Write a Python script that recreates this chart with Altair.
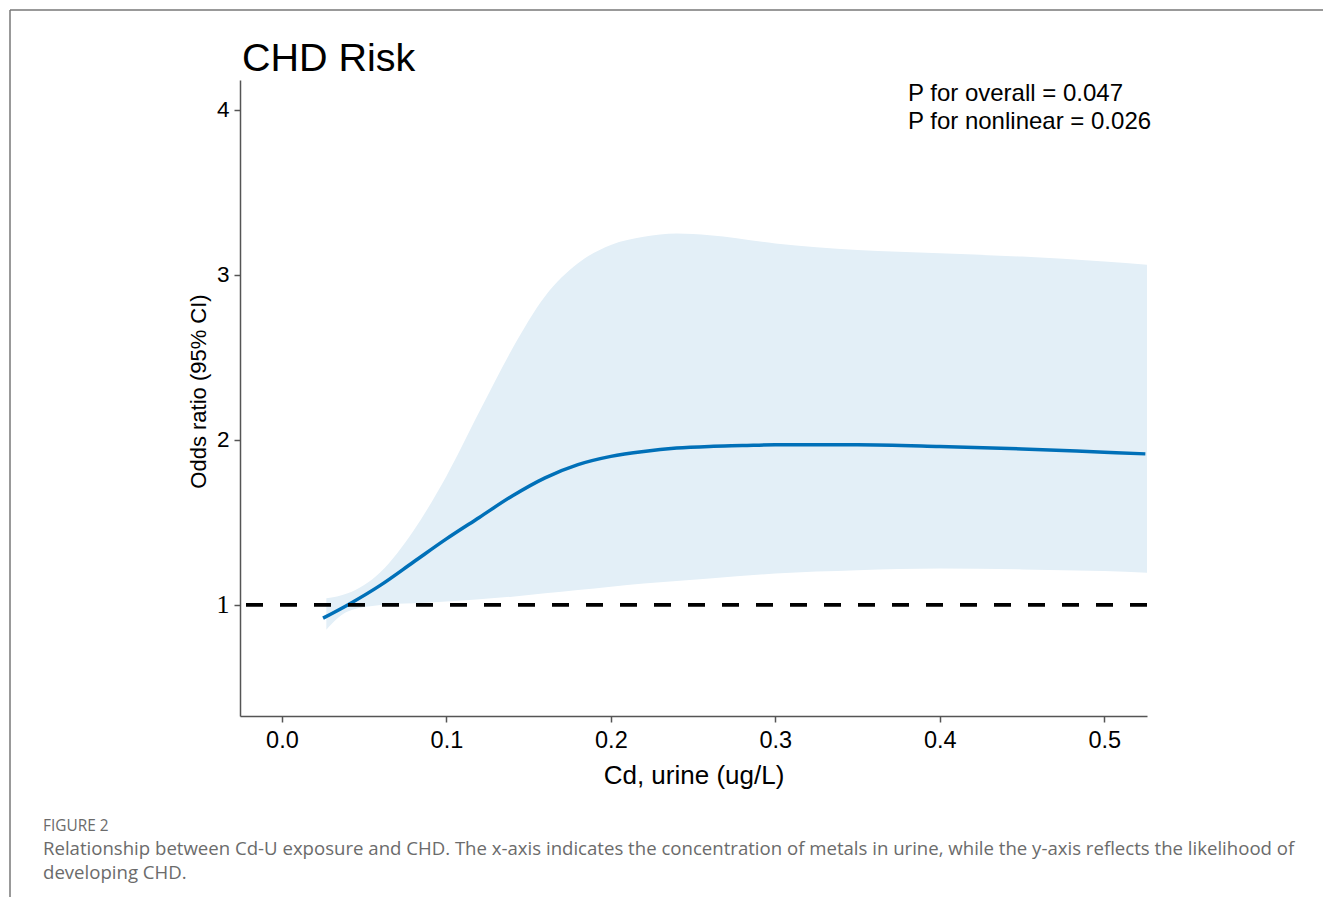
import altair as alt
import pandas as pd

# fitted curve
cd_line = [0.025, 0.04, 0.06, 0.08, 0.10, 0.12, 0.14, 0.16, 0.18, 0.20, 0.22, 0.24,
           0.26, 0.28, 0.30, 0.35, 0.40, 0.45, 0.50, 0.525]
or_line = [0.92, 1.00, 1.12, 1.26, 1.40, 1.53, 1.66, 1.77, 1.85, 1.90, 1.93, 1.95,
           1.96, 1.965, 1.97, 1.97, 1.96, 1.945, 1.925, 1.915]

# 95% confidence band
cd_ci = [0.027, 0.04, 0.06, 0.08, 0.10, 0.12, 0.14, 0.16, 0.18, 0.20, 0.22, 0.24,
         0.26, 0.30, 0.35, 0.40, 0.45, 0.50, 0.526]
ci_upper = [1.04, 1.07, 1.20, 1.45, 1.78, 2.17, 2.55, 2.87, 3.07, 3.18, 3.23, 3.25,
            3.24, 3.19, 3.15, 3.13, 3.11, 3.08, 3.06]
ci_lower = [0.85, 0.96, 1.00, 1.01, 1.02, 1.035, 1.05, 1.07, 1.09, 1.11, 1.13, 1.145,
            1.16, 1.19, 1.21, 1.22, 1.215, 1.205, 1.195]

x_ticks = [0.0, 0.1, 0.2, 0.3, 0.4, 0.5]
y_ticks = [1, 2, 3, 4]
ref_value = [1]

title_text = "CHD Risk"
p_texts = ["P for overall = 0.047", "P for nonlinear = 0.026"]
caption_label = "FIGURE 2"
caption_lines = [
    "Relationship between Cd-U exposure and CHD. The x-axis indicates the concentration of metals in urine, while the y-axis reflects the likelihood of",
    "developing CHD.",
]

line_df = pd.DataFrame({"cd": cd_line, "or": or_line})
ci_df = pd.DataFrame({"cd": cd_ci, "lo": ci_lower, "hi": ci_upper})
ref_df = pd.DataFrame({"ref": ref_value})

FONT = "Liberation Sans"
CAP_FONT = "Open Sans"
W, H = 907, 636

xscale = alt.Scale(domain=[-0.0255, 0.526], nice=False, zero=False)
yscale = alt.Scale(domain=[0.327, 4.18], nice=False, zero=False)

xaxis = alt.Axis(values=x_ticks, format=".1f", title="Cd, urine (ug/L)", grid=False,
                 labelFontSize=23.5, labelFont=FONT, labelColor="black", labelPadding=6,
                 titleFontSize=26, titleFont=FONT, titleFontWeight="normal", titleColor="black",
                 titlePadding=11, domainColor="#555555", domainWidth=1.5, tickColor="#555555",
                 tickWidth=1.5, tickSize=6)
yaxis = alt.Axis(values=y_ticks, format="d", title="Odds ratio (95% CI)", grid=False,
                 labelFontSize=alt.expr("datum.value == 1 ? 26 : 22.5"),
                 labelFont=alt.expr("datum.value == 1 ? 'Liberation Serif' : 'Liberation Sans'"),
                 labelColor="black", labelPadding=5,
                 titleFontSize=22, titleFont=FONT, titleFontWeight="normal", titleColor="black",
                 titlePadding=6, titleY=311, domainColor="#555555", domainWidth=1.5,
                 tickColor="#555555", tickWidth=1.5, tickSize=6)

band = alt.Chart(ci_df).mark_area(color="#e3eff7", interpolate="monotone").encode(
    x=alt.X("cd:Q", scale=xscale, axis=xaxis),
    y=alt.Y("lo:Q", scale=yscale, axis=yaxis),
    y2="hi:Q",
)

curve = alt.Chart(line_df).mark_line(color="#0070b8", strokeWidth=3.5, interpolate="monotone").encode(
    x=alt.X("cd:Q", scale=xscale),
    y=alt.Y("or:Q", scale=yscale),
)

ref = alt.Chart(ref_df).mark_rule(color="black", strokeWidth=3.7, strokeDash=[17, 17]).encode(
    y=alt.Y("ref:Q", scale=yscale),
)

title = alt.Chart(pd.DataFrame({"t": [title_text]})).mark_text(
    font=FONT, fontSize=39.5, align="left", baseline="alphabetic", color="black"
).encode(text="t:N", x=alt.value(2), y=alt.value(-9))

p1 = alt.Chart(pd.DataFrame({"t": [p_texts[0]]})).mark_text(
    font=FONT, fontSize=24, align="left", baseline="alphabetic", color="black"
).encode(text="t:N", x=alt.value(668), y=alt.value(21))
p2 = alt.Chart(pd.DataFrame({"t": [p_texts[1]]})).mark_text(
    font=FONT, fontSize=24, align="left", baseline="alphabetic", color="black"
).encode(text="t:N", x=alt.value(668), y=alt.value(49))

cap0 = alt.Chart(pd.DataFrame({"t": [caption_label]})).mark_text(
    font=CAP_FONT, fontSize=15.4, align="left", baseline="alphabetic", color="#6b6b6b"
).encode(text="t:N", x=alt.value(-197), y=alt.value(751))
cap1 = alt.Chart(pd.DataFrame({"t": [caption_lines[0]]})).mark_text(
    font=CAP_FONT, fontSize=18.6, align="left", baseline="alphabetic", color="#6b6b6b"
).encode(text="t:N", x=alt.value(-197), y=alt.value(775))
cap2 = alt.Chart(pd.DataFrame({"t": [caption_lines[1]]})).mark_text(
    font=CAP_FONT, fontSize=18.6, align="left", baseline="alphabetic", color="#6b6b6b"
).encode(text="t:N", x=alt.value(-197), y=alt.value(799))

frame_top = alt.Chart(ref_df).mark_rule(color="#777777", strokeWidth=1.5).encode(
    x=alt.value(-230), x2=alt.value(1083), y=alt.value(-70)
)
frame_left = alt.Chart(ref_df).mark_rule(color="#777777", strokeWidth=1.5).encode(
    x=alt.value(-230), y=alt.value(-70), y2=alt.value(830)
)

chart = alt.layer(band, curve, ref, title, p1, p2, cap0, cap1, cap2, frame_top, frame_left).properties(
    width=W, height=H,
    autosize=alt.AutoSizeParams(type="none"),
    padding={"left": 232, "top": 72, "right": 176, "bottom": 181},
).configure_view(stroke=None)

chart.save("out.html", embed_options={"renderer": "svg", "actions": False})
